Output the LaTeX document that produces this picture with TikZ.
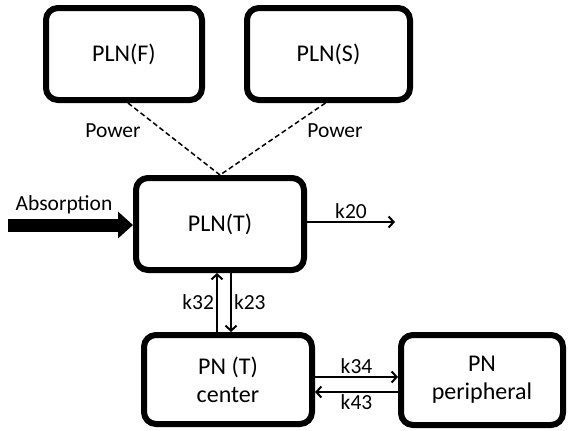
\documentclass[tikz,border=0pt]{standalone}
\usepackage{fontspec}
\setmainfont{Carlito}
\usetikzlibrary{arrows.meta,positioning,calc}

\tikzset{
  comp/.style={draw,line width=6pt,rounded corners=12pt,minimum width=168pt,
    minimum height=92pt,align=center,font=\fontsize{24}{28}\selectfont},
  rate/.style={font=\fontsize{21.5}{24}\selectfont,inner sep=2pt},
  flow/.style={line width=2pt,-{Straight Barb[length=5pt,width=11pt]}},
}

\begin{document}
\begin{tikzpicture}[x=1pt,y=-1pt]
\useasboundingbox (0,0) rectangle (568,431);
% compartments
\node[comp,minimum width=156pt] (plnf) at (124,54) {PLN(F)};
\node[comp,minimum width=163pt] (plns) at (328.5,54) {PLN(S)};
\node[comp] (plnt) at (220,224) {PLN(T)};
\node[comp,minimum height=89pt] (pnc) at (228,379.5) {PN (T)\\center};
\node[comp,minimum width=162pt,minimum height=90pt] (pnp) at (482,380) {PN\\peripheral};

% power links
\draw[dashed,line width=1.5pt,dash pattern=on 5pt off 3pt] ([xshift=4pt]plnf.south) -- (plnt.north);
\draw[dashed,line width=1.5pt,dash pattern=on 5pt off 3pt] ([xshift=-3pt]plns.south) -- (plnt.north);
\node[rate] (pwf) at (113,131) {Power};
\node[rate] (pws) at (335,131) {Power};

% input
\coordinate (src) at (8,225);
\draw[line width=13pt,-{Triangle[length=15pt,width=26pt]}] (src) -- (src -| plnt.west);
\node[rate] (abs) at (64,205) {Absorption};

% elimination
\coordinate (out) at (395,222);
\draw[flow] (plnt.east |- out) -- node[rate,above] (k20) {k20} (out);

% exchange
\draw[flow] ([xshift=-11pt]pnc.north) -- node[rate,left] (k32) {k32} ([xshift=-3pt]plnt.south);
\draw[flow] ([xshift=11pt]plnt.south) -- node[rate,right] (k23) {k23} ([xshift=3pt]pnc.north);
\coordinate (a34) at ([yshift=2.5pt]pnc.east);
\coordinate (b43) at ([yshift=-12.5pt]pnc.east);
\draw[flow] (a34) -- node[rate,above] (k34) {k34} (a34 -| pnp.west);
\draw[flow] (b43 -| pnp.west) -- node[rate,below] (k43) {k43} (b43);
\end{tikzpicture}
\end{document}
